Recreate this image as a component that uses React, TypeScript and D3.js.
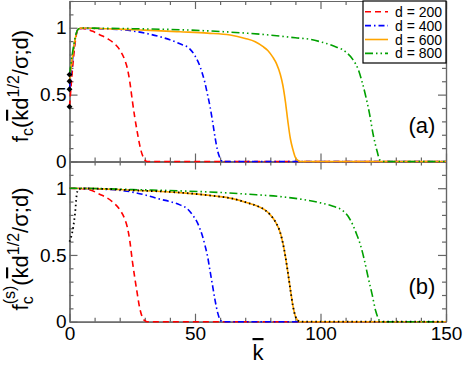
import React, { useRef, useEffect } from 'react';
import * as d3 from 'd3';

// panel (a): f_c
const kRedA = [0, 3.5, 5, 9, 12, 15, 18, 20, 22, 23, 24, 25, 26, 27, 28, 29, 30, 31, 150];
const fRedA = [0.41, 0.99, 0.995, 0.975, 0.948, 0.92, 0.88, 0.835, 0.76, 0.7, 0.6, 0.46, 0.33, 0.22, 0.12, 0.05, 0.012, 0, 0];
const kBlueA = [0, 3.5, 5, 8, 15, 22, 30, 36, 40, 44, 48, 50, 52, 54, 55, 56, 57, 58, 59, 60, 61, 150];
const fBlueA = [0.54, 0.99, 0.995, 0.995, 0.99, 0.983, 0.96, 0.933, 0.91, 0.88, 0.84, 0.79, 0.71, 0.585, 0.5, 0.41, 0.3, 0.18, 0.08, 0.024, 0, 0];
const kOrangeA = [0, 3.5, 5, 10, 20, 30, 44, 55, 64, 70, 74, 77, 79, 81, 82.5, 84, 85, 86, 87, 88, 89, 90, 91, 92, 150];
const fOrangeA = [0.6, 0.99, 0.998, 0.995, 0.99, 0.982, 0.97, 0.96, 0.946, 0.92, 0.895, 0.86, 0.83, 0.78, 0.73, 0.65, 0.57, 0.45, 0.3, 0.17, 0.09, 0.03, 0.008, 0, 0];
const kGreenA = [0, 3.5, 5, 10, 25, 44, 60, 70, 80, 90, 96, 100, 105, 110, 113, 115, 116.5, 118, 119.5, 121, 122.5, 123.7, 125, 150];
const fGreenA = [0.65, 0.99, 0.998, 0.997, 0.993, 0.985, 0.972, 0.96, 0.945, 0.925, 0.913, 0.895, 0.865, 0.82, 0.76, 0.69, 0.6, 0.49, 0.36, 0.2, 0.08, 0.01, 0, 0];
const diamondsA = [0.41, 0.54, 0.6, 0.65];

// panel (b): f_c^(s)
const kRedB = [0, 3, 7, 12, 17, 20, 22, 23, 24, 25, 26, 27, 28, 29, 30, 31, 150];
const fRedB = [1, 0.998, 0.993, 0.955, 0.9, 0.84, 0.77, 0.71, 0.61, 0.46, 0.33, 0.21, 0.1, 0.035, 0.008, 0, 0];
const kBlueB = [0, 10, 22, 30, 36, 40, 44, 47, 49, 51, 52, 53, 54, 55, 56, 57, 58, 59, 60, 61, 150];
const fBlueB = [1, 0.995, 0.98, 0.95, 0.918, 0.9, 0.875, 0.845, 0.8, 0.74, 0.695, 0.64, 0.57, 0.49, 0.38, 0.27, 0.16, 0.07, 0.015, 0, 0];
const kOrangeB = [0, 10, 25, 44, 57, 65, 71, 75, 78, 80, 82, 84, 85, 86, 87, 88, 89, 90, 91, 92, 150];
const fOrangeB = [1, 0.997, 0.985, 0.967, 0.943, 0.922, 0.89, 0.865, 0.835, 0.8, 0.75, 0.665, 0.59, 0.49, 0.37, 0.24, 0.12, 0.04, 0.008, 0, 0];
const kGreenB = [0, 10, 25, 44, 60, 71, 85, 92, 100, 105, 109, 111, 113, 114.5, 116, 117.5, 119, 120.5, 122, 123, 124, 150];
const fGreenB = [1, 0.998, 0.99, 0.98, 0.968, 0.955, 0.935, 0.918, 0.89, 0.865, 0.83, 0.79, 0.72, 0.65, 0.57, 0.46, 0.33, 0.21, 0.08, 0.025, 0, 0];
const kBlackB = [0, 1.5, 2.2, 2.9, 3.5, 5, 10, 25, 44, 57, 65, 71, 75, 78, 80, 82, 84, 85, 86, 87, 88, 89, 90, 91, 92, 150];
const fBlackB = [0.6, 0.71, 0.81, 0.955, 0.99, 0.998, 0.997, 0.985, 0.967, 0.943, 0.922, 0.89, 0.865, 0.835, 0.8, 0.75, 0.665, 0.59, 0.49, 0.37, 0.24, 0.12, 0.04, 0.008, 0, 0];

const legendLabels = ['d = 200', 'd = 400', 'd = 600', 'd = 800'];
const xMajor = [0, 50, 100, 150];
const yMajor = [0, 0.5, 1];

const colors = ['#ff0000', '#0000ff', '#ffa500', '#00a000'];
const dashes = ['6,4', '6,3,1.5,3', null, '8,3,1.5,3,1.5,3'];

const FONT = 'Liberation Sans, Arial, Helvetica, sans-serif';
const AXIS = '#666';

export default function App() {
  const ref = useRef<SVGSVGElement>(null);

  useEffect(() => {
    const svg = d3.select(ref.current);
    svg.selectAll('*').remove();

    const left = 69.5, right = 446;
    const x = d3.scaleLinear().domain([0, 150]).range([left, right]);
    const yA = d3.scaleLinear().domain([0, 1.2]).range([161.5, 1]);
    const yB = d3.scaleLinear().domain([0, 1.2]).range([321.7, 161.5]);

    const xMinor = d3.range(0, 151, 10).filter((v) => v % 50 !== 0);
    const yMinor = d3.range(0, 13).map((v) => v / 10).filter((v) => !yMajor.includes(v));

    const drawAxes = (y: any, showX: boolean) => {
      const [y0, y1] = [y(0), y(1.2)];
      const g = svg.append('g').attr('font-family', FONT);
      const add = (axis: any, tr: string, labels: boolean) => {
        const a = g.append('g').attr('transform', tr).call(axis);
        a.selectAll('path, line').attr('stroke', AXIS).attr('stroke-width', 1.2);
        a.selectAll('text').attr('fill', '#000').style('font-size', '19px');
        if (!labels) a.selectAll('text').remove();
        return a;
      };
      // left
      add(d3.axisLeft(y).tickValues(yMajor).tickSize(-8).tickSizeOuter(0).tickPadding(3).tickFormat((d: any) => String(d)), `translate(${left},0)`, true);
      add(d3.axisLeft(y).tickValues(yMinor).tickSize(-4).tickSizeOuter(0), `translate(${left},0)`, false);
      // right
      add(d3.axisRight(y).tickValues(yMajor).tickSize(-8).tickSizeOuter(0), `translate(${right},0)`, false);
      add(d3.axisRight(y).tickValues(yMinor).tickSize(-4).tickSizeOuter(0), `translate(${right},0)`, false);
      // top
      add(d3.axisTop(x).tickValues(xMajor).tickSize(-8).tickSizeOuter(0), `translate(0,${y1})`, false);
      add(d3.axisTop(x).tickValues(xMinor).tickSize(-4).tickSizeOuter(0), `translate(0,${y1})`, false);
      // bottom
      add(d3.axisBottom(x).tickValues(xMajor).tickSize(-8).tickSizeOuter(0).tickPadding(5).tickFormat((d: any) => String(d)), `translate(0,${y0})`, showX);
      add(d3.axisBottom(x).tickValues(xMinor).tickSize(-4).tickSizeOuter(0), `translate(0,${y0})`, false);
    };

    const drawLine = (y: any, ks: number[], fs: number[], color: string, dash: string | null, w = 1.6) => {
      const line = d3
        .line<number>()
        .x((_, i) => x(ks[i]))
        .y((d) => y(d))
        .curve(d3.curveMonotoneX);
      svg
        .append('path')
        .attr('d', line(fs))
        .attr('fill', 'none')
        .attr('stroke', color)
        .attr('stroke-width', w)
        .attr('stroke-dasharray', dash);
    };

    drawAxes(yA, false);
    drawAxes(yB, true);

    const seriesA = [[kRedA, fRedA], [kBlueA, fBlueA], [kOrangeA, fOrangeA], [kGreenA, fGreenA]];
    const seriesB = [[kRedB, fRedB], [kBlueB, fBlueB], [kOrangeB, fOrangeB], [kGreenB, fGreenB]];
    seriesA.forEach(([k, f], i) => drawLine(yA, k, f, colors[i], dashes[i]));
    seriesB.forEach(([k, f], i) => drawLine(yB, k, f, colors[i], dashes[i]));
    drawLine(yB, kBlackB, fBlackB, '#000', '1.5,3', 1.8);

    // diamonds at k = 0
    svg
      .selectAll('path.dia')
      .data(diamondsA)
      .enter()
      .append('path')
      .attr('class', 'dia')
      .attr('d', d3.symbol().type(d3.symbolDiamond2).size(22))
      .attr('transform', (d) => `translate(${x(0)},${yA(d)})`)
      .attr('fill', '#000');

    // legend
    const lg = svg.append('g').attr('font-family', FONT).attr('font-size', 14);
    lg.append('rect').attr('x', 363).attr('y', 1).attr('width', 83).attr('height', 62)
      .attr('fill', '#fff').attr('stroke', '#000').attr('stroke-width', 1.2);
    legendLabels.forEach((lab, i) => {
      const ly = 11.7 + i * 13.9;
      lg.append('line').attr('x1', 365).attr('x2', 388).attr('y1', ly).attr('y2', ly)
        .attr('stroke', colors[i]).attr('stroke-width', 1.6).attr('stroke-dasharray', dashes[i]);
      lg.append('text').attr('x', 395).attr('y', ly + 5).text(lab);
    });
  }, []);

  return (
    <svg width={463} height={365} style={{ position: 'absolute', left: 0, top: 0 }} fontFamily={FONT}>
      <g ref={ref as any} />
      <text x={422} y={133} fontSize={22} textAnchor="middle">(a)</text>
      <text x={422} y={294} fontSize={22} textAnchor="middle">(b)</text>
      <text x={258} y={360} fontSize={22} textAnchor="middle" style={{ textDecoration: 'overline' }}>k</text>
      <text transform="translate(28,86) rotate(-90)" fontSize={22} textAnchor="middle">
        <tspan>f</tspan>
        <tspan dy={5} fontSize={16}>c</tspan>
        <tspan dy={-5}>(</tspan>
        <tspan style={{ textDecoration: 'overline' }}>k</tspan>
        <tspan>d</tspan>
        <tspan dy={-9} fontSize={16}>1/2</tspan>
        <tspan dy={9}>/σ;d)</tspan>
      </text>
      <text transform="translate(28,249) rotate(-90)" fontSize={22} textAnchor="middle">
        <tspan>f</tspan>
        <tspan dy={5} fontSize={16}>c</tspan>
        <tspan dx={-8} dy={-18} fontSize={16}>(s)</tspan>
        <tspan dy={13}>(</tspan>
        <tspan style={{ textDecoration: 'overline' }}>k</tspan>
        <tspan>d</tspan>
        <tspan dy={-9} fontSize={16}>1/2</tspan>
        <tspan dy={9}>/σ;d)</tspan>
      </text>
    </svg>
  );
}
